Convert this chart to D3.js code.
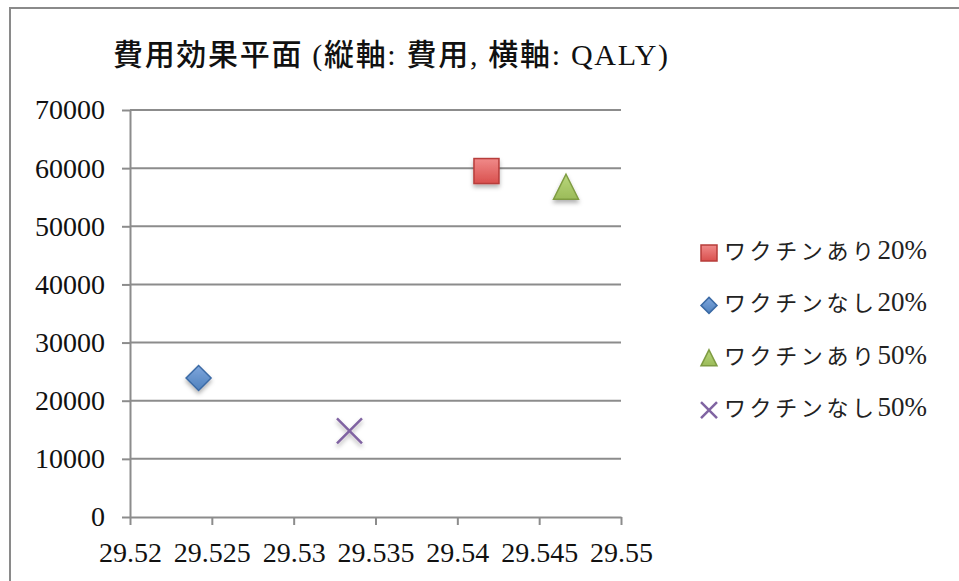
<!DOCTYPE html>
<html>
<head>
<meta charset="utf-8">
<script src="https://cdn.jsdelivr.net/npm/d3@7"></script>
<style>
  body { margin: 0; background: #fff; }
  svg { display: block; }
</style>
</head>
<body>
<div id="chart"></div>
<script>
const title = "費用効果平面 (縦軸: 費用, 横軸: QALY)";
const seriesNames = ["ワクチンあり20%", "ワクチンなし20%", "ワクチンあり50%", "ワクチンなし50%"];
const qaly = [29.54178, 29.52419, 29.54664, 29.53341];
const cost = [59500, 23900, 56800, 14800];
const xTicks = [29.52, 29.525, 29.53, 29.535, 29.54, 29.545, 29.55];
const yTicks = [0, 10000, 20000, 30000, 40000, 50000, 60000, 70000];
const shapes = ["square", "diamond", "triangle", "cross"];
const colors = ["#d9504e", "#4f81bd", "#9bbb59", "#8064a2"];
const lightColors = ["#f08a89", "#7ea6dc", "#b9d77c", "#8064a2"];
const darkColors = ["#b73c3a", "#3b6aa5", "#7f9c43", "#8064a2"];

const FONT = "'Liberation Serif', 'Noto Sans CJK JP', serif";
const width = 959, height = 581;
const margin = {top: 110, right: 338, bottom: 64, left: 130};

const svg = d3.select("#chart").append("svg")
    .attr("width", width)
    .attr("height", height)
    .style("font-family", FONT);

const defs = svg.append("defs");
const shadow = defs.append("filter").attr("id", "shadow")
    .attr("x", "-50%").attr("y", "-50%").attr("width", "200%").attr("height", "200%");
shadow.append("feDropShadow")
    .attr("dx", 0).attr("dy", 3).attr("stdDeviation", 2)
    .attr("flood-color", "#000").attr("flood-opacity", 0.3);

colors.forEach((c, i) => {
    const g = defs.append("linearGradient").attr("id", "grad" + i)
        .attr("x1", 0).attr("y1", 0).attr("x2", 0).attr("y2", 1);
    g.append("stop").attr("offset", "0%").attr("stop-color", lightColors[i]);
    g.append("stop").attr("offset", "100%").attr("stop-color", c);
});

// outer frame
svg.append("rect")
    .attr("x", 10).attr("y", 8)
    .attr("width", width + 20).attr("height", height + 20)
    .attr("fill", "none").attr("stroke", "#8a8a8a").attr("stroke-width", 2);

svg.append("text")
    .attr("x", 113).attr("y", 65)
    .attr("font-size", 30)
    .attr("font-weight", 500)
    .attr("textLength", 555)
    .attr("lengthAdjust", "spacing")
    .attr("fill", "#111")
    .style("font-family", FONT)
    .text(title);

const x = d3.scaleLinear()
    .domain([29.52, 29.55])
    .range([margin.left, width - margin.right]);

const y = d3.scaleLinear()
    .domain([0, 70000])
    .range([height - margin.bottom, margin.top]);

// gridlines
svg.append("g")
    .selectAll("line")
    .data(yTicks.slice(1))
    .join("line")
    .attr("x1", x.range()[0]).attr("x2", x.range()[1])
    .attr("y1", d => y(d)).attr("y2", d => y(d))
    .attr("stroke", "#8c8c8c").attr("stroke-width", 2);

const styleAxis = g => {
    g.attr("font-family", null).attr("font-size", null);
    g.select(".domain").attr("stroke", "#8c8c8c").attr("stroke-width", 2);
    g.selectAll(".tick line").attr("stroke", "#8c8c8c").attr("stroke-width", 2);
    g.selectAll(".tick text")
        .style("font-family", "'Liberation Serif', serif")
        .style("font-size", "28px")
        .attr("fill", "#111");
};

svg.append("g")
    .attr("transform", `translate(0,${y(0)})`)
    .call(d3.axisBottom(x).tickValues(xTicks).tickFormat(d => String(+d.toFixed(3))).tickSize(8).tickSizeOuter(0).tickPadding(17))
    .call(styleAxis);

svg.append("g")
    .attr("transform", `translate(${x(29.52)},0)`)
    .call(d3.axisLeft(y).tickValues(yTicks).tickFormat(d3.format("d")).tickSize(8).tickSizeOuter(0).tickPadding(17))
    .call(styleAxis);

function marker(sel, shape, i, s) {
    const h = s / 2;
    if (shape === "square") {
        sel.append("rect").attr("x", -h).attr("y", -h).attr("width", s).attr("height", s)
            .attr("fill", `url(#grad${i})`).attr("stroke", darkColors[i]).attr("stroke-width", 1.5);
    } else if (shape === "diamond") {
        sel.append("path").attr("d", `M0,${-h}L${h},0L0,${h}L${-h},0Z`)
            .attr("fill", `url(#grad${i})`).attr("stroke", darkColors[i]).attr("stroke-width", 1.5);
    } else if (shape === "triangle") {
        sel.append("path").attr("d", `M0,${-h}L${h},${h}L${-h},${h}Z`)
            .attr("fill", `url(#grad${i})`).attr("stroke", darkColors[i]).attr("stroke-width", 1.5);
    } else {
        sel.append("path").attr("d", `M${-h},${-h}L${h},${h}M${h},${-h}L${-h},${h}`)
            .attr("stroke", colors[i]).attr("stroke-width", 2.5).attr("fill", "none");
    }
}

// points
qaly.forEach((q, i) => {
    const g = svg.append("g")
        .attr("transform", `translate(${x(q)},${y(cost[i])})`)
        .attr("filter", "url(#shadow)");
    marker(g, shapes[i], i, 25);
});

// legend
const legend = svg.append("g").attr("transform", "translate(709,253)");
seriesNames.forEach((name, i) => {
    const row = legend.append("g").attr("transform", `translate(0,${i * 52.4})`);
    marker(row.append("g"), shapes[i], i, 16);
    const pct = name.match(/\d+%$/)[0];
    const t = row.append("text")
        .attr("x", 15).attr("y", 0).attr("dy", "0.36em")
        .attr("fill", "#222");
    t.append("tspan")
        .attr("font-size", 22)
        .attr("textLength", 150)
        .attr("lengthAdjust", "spacing")
        .style("font-family", "'Noto Sans CJK JP', sans-serif")
        .text(name.slice(0, -pct.length));
    t.append("tspan")
        .attr("font-size", 27)
        .style("font-family", "'Liberation Serif', serif")
        .text(pct);
});
</script>
</body>
</html>
